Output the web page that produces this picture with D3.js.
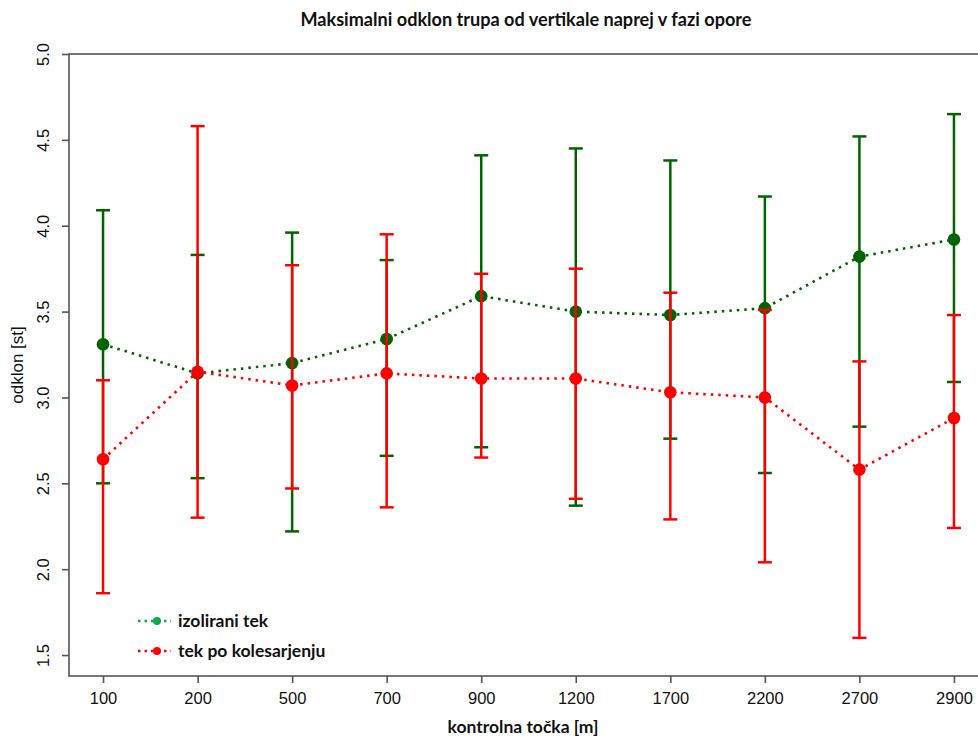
<!DOCTYPE html>
<html>
<head>
<meta charset="utf-8">
<script src="https://cdn.jsdelivr.net/npm/d3@7"></script>
<style>
  html, body { margin: 0; padding: 0; background: #fff; }
  svg { display: block; }
</style>
</head>
<body>
<svg id="chart" width="978" height="736"></svg>
<script>
// Control points along the course [m]
const categories = ["100", "200", "500", "700", "900", "1200", "1700", "2200", "2700", "2900"];

// "izolirani tek" – mean and error-bar limits
const isolatedMean  = [3.31, 3.14, 3.20, 3.34, 3.59, 3.50, 3.48, 3.52, 3.82, 3.92];
const isolatedUpper = [4.09, 3.83, 3.96, 3.80, 4.41, 4.45, 4.38, 4.17, 4.52, 4.65];
const isolatedLower = [2.50, 2.53, 2.22, 2.66, 2.71, 2.37, 2.76, 2.56, 2.83, 3.09];

// "tek po kolesarjenju" – mean and error-bar limits
const cycleMean  = [2.64, 3.15, 3.07, 3.14, 3.11, 3.11, 3.03, 3.00, 2.58, 2.88];
const cycleUpper = [3.10, 4.58, 3.77, 3.95, 3.72, 3.75, 3.61, 3.51, 3.21, 3.48];
const cycleLower = [1.86, 2.30, 2.47, 2.36, 2.65, 2.41, 2.29, 2.04, 1.60, 2.24];

const yTicks = [1.5, 2.0, 2.5, 3.0, 3.5, 4.0, 4.5, 5.0];

const seriesNames = ["izolirani tek", "tek po kolesarjenju"];

const svg = d3.select("#chart");

const plot = { left: 69, right: 988, top: 54, bottom: 676 };

// index positions padded by 4% on each side
const idx = d3.range(categories.length);
const x = d3.scaleLinear()
  .domain([-0.36, categories.length - 1 + 0.36])
  .range([plot.left, plot.right]);

const y = d3.scaleLinear()
  .domain([1.378, 5.0])
  .range([plot.bottom, plot.top]);

const axisColor = "#555555";

// plot frame
svg.append("rect")
  .attr("x", plot.left).attr("y", plot.top)
  .attr("width", plot.right - plot.left).attr("height", plot.bottom - plot.top)
  .attr("fill", "none").attr("stroke", axisColor).attr("stroke-width", 1.6);

// x axis
const xAxis = d3.axisBottom(x)
  .tickValues(idx)
  .tickFormat(i => categories[i])
  .tickSize(7)
  .tickSizeOuter(0)
  .tickPadding(9);
const gx = svg.append("g")
  .attr("transform", `translate(0,${plot.bottom})`)
  .call(xAxis);
gx.select(".domain").remove();
gx.selectAll(".tick line").attr("stroke", axisColor).attr("stroke-width", 1.6);
gx.selectAll(".tick text")
  .attr("fill", "#111")
  .style("font-family", "'Liberation Sans', Arial, sans-serif")
  .style("font-size", "16.5px");

// y axis
const yAxis = d3.axisLeft(y)
  .tickValues(yTicks)
  .tickFormat(d3.format(".1f"))
  .tickSize(7)
  .tickSizeOuter(0);
const gy = svg.append("g")
  .attr("transform", `translate(${plot.left},0)`)
  .call(yAxis);
gy.select(".domain").remove();
gy.selectAll(".tick line").attr("stroke", axisColor).attr("stroke-width", 1.6);
gy.selectAll(".tick text")
  .attr("x", 0).attr("dy", 0)
  .attr("text-anchor", "middle")
  .attr("transform", "translate(-14,0) rotate(-90) translate(0,-6)")
  .attr("fill", "#111")
  .style("font-family", "'Liberation Sans', Arial, sans-serif")
  .style("font-size", "16.5px");

// titles
svg.append("text")
  .attr("x", 526).attr("y", 26)
  .attr("text-anchor", "middle")
  .style("font-family", "Lato, 'Open Sans', sans-serif")
  .style("font-weight", "bold")
  .style("font-size", "18.1px")
  .attr("fill", "#111")
  .text("Maksimalni odklon trupa od vertikale naprej v fazi opore");

svg.append("text")
  .attr("x", 523).attr("y", 733)
  .attr("text-anchor", "middle")
  .style("font-family", "Lato, 'Open Sans', sans-serif")
  .style("font-weight", "bold")
  .style("font-size", "17.5px")
  .attr("fill", "#111")
  .text("kontrolna točka [m]");

svg.append("text")
  .attr("transform", `translate(23,365) rotate(-90)`)
  .attr("text-anchor", "middle")
  .style("font-family", "'Liberation Sans', Arial, sans-serif")
  .style("font-size", "17px")
  .attr("fill", "#111")
  .text("odklon [st]");

// series
const series = [
  { name: seriesNames[0], mean: isolatedMean, upper: isolatedUpper, lower: isolatedLower, color: "#006400", legendColor: "#0fa84a" },
  { name: seriesNames[1], mean: cycleMean, upper: cycleUpper, lower: cycleLower, color: "#ff0000", legendColor: "#ff0000" }
];

const line = d3.line().x((d, i) => x(i)).y(d => y(d));
const capHalf = 7;

series.forEach(s => {
  const g = svg.append("g");
  g.append("path")
    .datum(s.mean)
    .attr("d", line)
    .attr("fill", "none")
    .attr("stroke", s.color)
    .attr("stroke-width", 2.6)
    .attr("stroke-dasharray", "2.5,5");

  const bars = g.selectAll(".bar").data(idx).enter().append("g");
  bars.append("line")
    .attr("x1", i => x(i)).attr("x2", i => x(i))
    .attr("y1", i => y(s.lower[i])).attr("y2", i => y(s.upper[i]))
    .attr("stroke", s.color).attr("stroke-width", 2.5);
  bars.append("line")
    .attr("x1", i => x(i) - capHalf).attr("x2", i => x(i) + capHalf)
    .attr("y1", i => y(s.upper[i])).attr("y2", i => y(s.upper[i]))
    .attr("stroke", s.color).attr("stroke-width", 2.5);
  bars.append("line")
    .attr("x1", i => x(i) - capHalf).attr("x2", i => x(i) + capHalf)
    .attr("y1", i => y(s.lower[i])).attr("y2", i => y(s.lower[i]))
    .attr("stroke", s.color).attr("stroke-width", 2.5);

  g.selectAll("circle").data(s.mean).enter().append("circle")
    .attr("cx", (d, i) => x(i))
    .attr("cy", d => y(d))
    .attr("r", 6.3)
    .attr("fill", s.color);
});

// legend
const legend = svg.append("g").attr("transform", "translate(138,621)");
series.forEach((s, k) => {
  const row = legend.append("g").attr("transform", `translate(0,${k * 30})`);
  row.append("line")
    .attr("x1", 0).attr("x2", 33).attr("y1", 0).attr("y2", 0)
    .attr("stroke", s.legendColor).attr("stroke-width", 2.6)
    .attr("stroke-dasharray", "2.5,4");
  row.append("circle").attr("cx", 19).attr("cy", 0).attr("r", 4).attr("fill", s.legendColor);
  row.append("text")
    .attr("x", 40).attr("y", 0).attr("dy", "0.35em")
    .style("font-family", "Lato, 'Open Sans', sans-serif")
    .style("font-weight", "bold")
    .style("font-size", "17.5px")
    .attr("fill", "#111")
    .text(s.name);
});
</script>
</body>
</html>
